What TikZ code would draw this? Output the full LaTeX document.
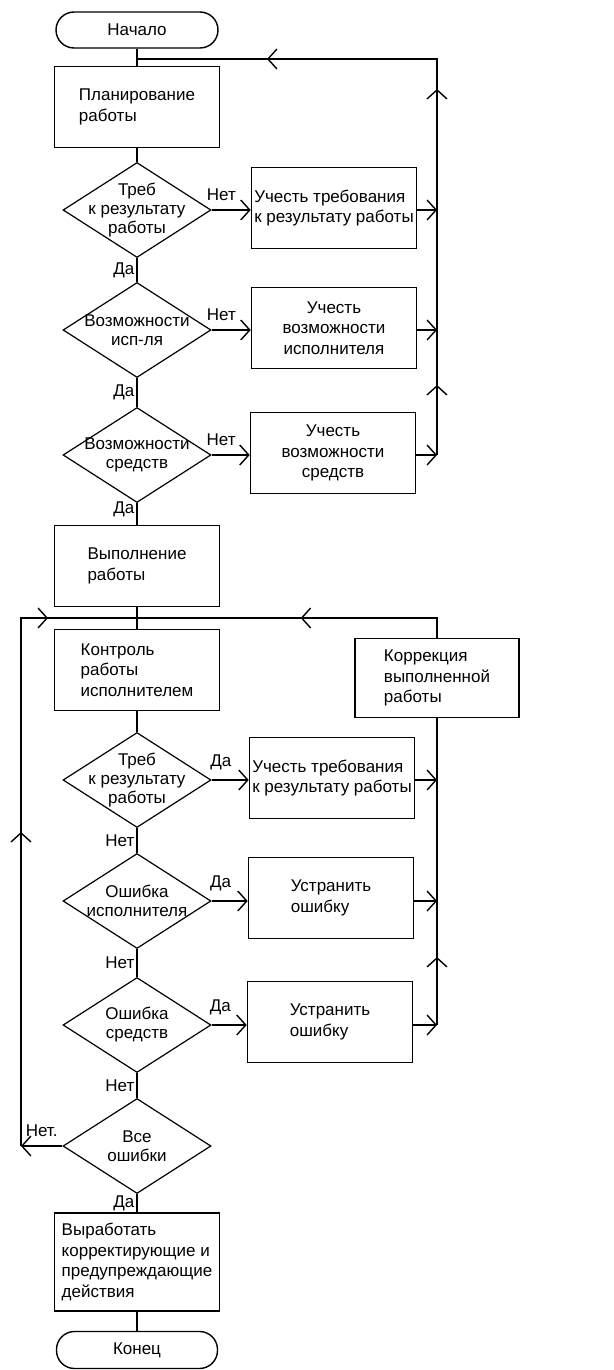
\documentclass[tikz,border=0pt]{standalone}
\usepackage{fontspec}
\setmainfont{Liberation Sans}
\usetikzlibrary{arrows.meta,shapes.geometric,decorations.markings}

\tikzset{
  barb/.style={postaction={decorate,decoration={markings,
      mark=at position #1 with {\arrow{Straight Barb[length=9pt,width=20pt]}}}}},
}

\begin{document}
\begin{tikzpicture}[
  x=1pt,y=-1pt,
  every node/.style={font=\fontsize{17}{20.5}\selectfont},
  box/.style={draw,line width=1.6pt,minimum width=165pt,minimum height=81pt,inner sep=2pt},
  term/.style={draw,line width=1.4pt,rounded corners=18pt,minimum width=162pt,minimum height=36pt},
  dec/.style={draw,line width=1.2pt,diamond,minimum width=148pt,minimum height=95pt,inner sep=0pt},
  lbl/.style={font=\fontsize{17}{19}\selectfont,inner sep=2pt},
  line/.style={line width=1.4pt},
  arr/.style={line,-{Straight Barb[length=9pt,width=20pt]}}
]
\useasboundingbox (0,0) rectangle (613,1370);

% planning part
\node[term] (start) at (137,30) {Начало};
\node[box,align=left] (plan) at (137,107) {Планирование\\работы};
\node[dec,label={[lbl,align=center]center:Треб\\к результату\\работы}] (d1) at (137,210) {};
\node[box,align=left] (b1) at (334,208) {Учесть требования\\к результату работы};
\node[dec,label={[lbl,align=center]center:Возможности\\исп-ля}] (d2) at (137,330) {};
\node[box,align=center] (b2) at (334,328) {Учесть\\возможности\\исполнителя};
\node[dec,label={[lbl,align=center]center:Возможности\\средств}] (d3) at (137,455) {};
\node[box,align=center] (b3) at (333,453) {Учесть\\возможности\\средств};
\node[box,align=left] (exec) at (137,566) {Выполнение\\работы};

% control part
\node[box,align=left] (ctrl) at (137,670) {Контроль\\работы\\исполнителем};
\node[box,align=left,minimum width=164pt,minimum height=79pt] (corr) at (437,678)
  {Коррекция\\выполненной\\работы};
\node[dec,label={[lbl,align=center]center:Треб\\к результату\\работы}] (d4) at (137,780) {};
\node[box,align=left] (b4) at (332,778) {Учесть требования\\к результату работы};
\node[dec,label={[lbl,align=center]center:Ошибка\\исполнителя}] (d5) at (137,901) {};
\node[box,align=left] (b5) at (331,898) {Устранить\\ошибку};
\node[dec,label={[lbl,align=center]center:Ошибка\\средств}] (d6) at (137,1025) {};
\node[box,align=left] (b6) at (330,1022) {Устранить\\ошибку};
\node[dec,label={[lbl,align=center]center:Все\\ошибки}] (d7) at (137,1146) {};
\node[box,align=left,minimum height=98pt] (act) at (137,1262)
  {Выработать\\корректирующие и\\предупреждающие\\действия};
\node[term,minimum width=161pt,minimum height=37pt] (stop) at (137,1350) {Конец};

% loop points
\coordinate (jtop) at (137,59);
\coordinate (rtop) at (437,59);
\coordinate (rbot) at (437,455);
\coordinate (jmid) at (137,618);
\coordinate (rmid) at (437,618);
\coordinate (rlow) at (437,1025);
\coordinate (lmid) at (21,618);
\coordinate (lbot) at (21,1146);

% main flow, top
\draw[line] (start) -- (plan);
\draw[line] (plan) -- (d1);
\draw[arr] (d1.east) -- node[lbl,above=7pt,pos=0.25]{Нет} (d1.east -| b1.west);
\draw[arr] (d1 -| b1.east) -- (d1 -| rtop);
\draw[line] (d1) -- node[lbl,left]{Да} (d2);
\draw[arr] (d2.east) -- node[lbl,above=7pt,pos=0.25]{Нет} (d2.east -| b2.west);
\draw[arr] (d2 -| b2.east) -- (d2 -| rtop);
\draw[line] (d2) -- node[lbl,left]{Да} (d3);
\draw[arr] (d3.east) -- node[lbl,above=7pt,pos=0.25]{Нет} (d3.east -| b3.west);
\draw[arr] (d3 -| b3.east) -- (rbot);
\draw[line] (d3) -- node[lbl,left,pos=0.3]{Да} (exec);
\draw[line,barb=70pt,barb=366pt,barb=566pt] (rbot) -- (rtop) -- (jtop);

% main flow, bottom
\draw[line] (exec) -- (ctrl);
\draw[line] (ctrl) -- (d4);
\draw[arr] (d4.east) -- node[lbl,above=7pt,pos=0.25]{Да} (d4.east -| b4.west);
\draw[arr] (d4 -| b4.east) -- (d4 -| rmid);
\draw[line] (d4) -- node[lbl,left]{Нет} (d5);
\draw[arr] (d5.east) -- node[lbl,above=7pt,pos=0.25]{Да} (d5.east -| b5.west);
\draw[arr] (d5 -| b5.east) -- (d5 -| rmid);
\draw[line] (d5) -- node[lbl,left]{Нет} (d6);
\draw[arr] (d6.east) -- node[lbl,above=7pt,pos=0.25]{Да} (d6.east -| b6.west);
\draw[arr] (d6 -| b6.east) -- (rlow);
\draw[line] (d6) -- node[lbl,left]{Нет} (d7);
\draw[arr] (d7.west) -- node[lbl,above=7pt]{Нет.} (lbot);
\draw[line] (d7) -- node[lbl,left]{Да} (act);
\draw[line] (act) -- (stop);
\draw[line,barb=68pt] (rlow) -- (corr.south);
\draw[line,barb=156pt] (corr.north) -- (rmid) -- (jmid);
\draw[line,barb=314pt,barb=555pt] (lbot) -- (lmid) -- (jmid);
\end{tikzpicture}
\end{document}
